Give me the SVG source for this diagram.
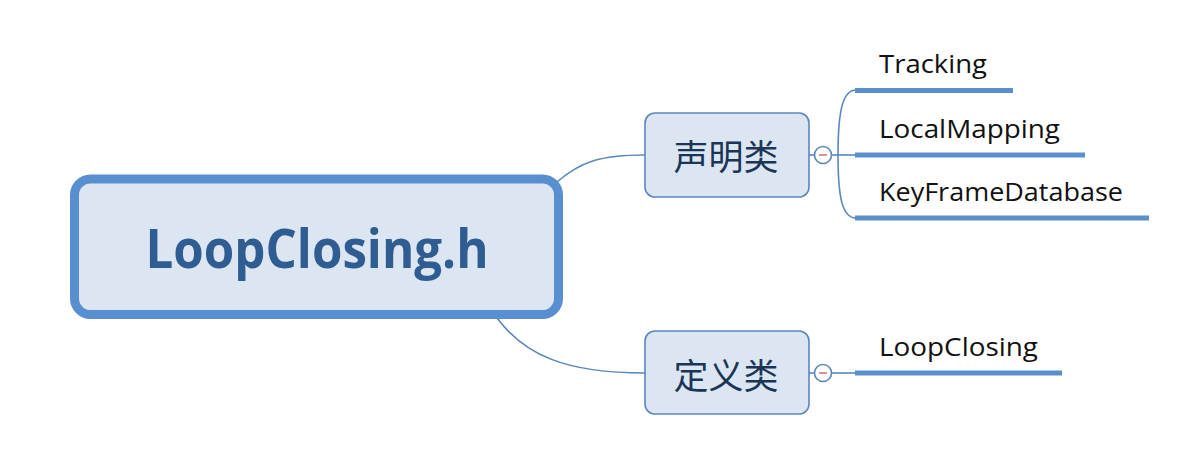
<svg xmlns="http://www.w3.org/2000/svg" width="1177" height="453" viewBox="0 0 1177 453">
<style>
.sub rect{fill:#dce6f2;stroke:#5b87bd;stroke-width:1.6}
.sub text{font-family:"Noto Sans CJK SC","Noto Sans",sans-serif;font-size:35px;fill:#1b3556;text-anchor:middle}
.leaf text{font-family:"Open Sans","Noto Sans",sans-serif;font-size:25px;fill:#111}
.leaf line{stroke:#5b8fcb;stroke-width:5}
.conn path,.conn line{fill:none;stroke:#5b87bd;stroke-width:1.6}
.tog circle{fill:#fff;stroke:#5b87bd;stroke-width:1.6}
.tog line{stroke:#c0504d;stroke-width:1.2}
</style>
<rect width="1177" height="453" fill="#fff"/>
<g class="conn" id="connectors">
<path d="M557,182 C580,162 600,155 645,155"/>
<path d="M497,318 C525,355 565,373 645,373"/>
<line x1="809" y1="155" x2="814" y2="155"/>
<line x1="832" y1="155" x2="856" y2="155"/>
<path d="M856,90 C843,90 838,110 838,155 C838,200 843,218 856,218"/>
<line x1="809" y1="373" x2="814" y2="373"/>
<line x1="832" y1="373" x2="856" y2="373"/>
</g>
<g id="root">
<rect x="74.5" y="179" width="484" height="135.5" rx="16" fill="#dce6f2" stroke="#578fd0" stroke-width="9"/>
<text x="317" y="268" font-family="Open Sans,Noto Sans,sans-serif" font-weight="bold" font-size="54" fill="#2f5c91" text-anchor="middle" textLength="343" lengthAdjust="spacingAndGlyphs">LoopClosing.h</text>
</g>
<g class="sub" id="decl">
<rect x="645" y="113" width="164" height="84" rx="10"/>
<text x="726" y="170">声明类</text>
</g>
<g class="sub" id="def">
<rect x="645" y="331" width="164" height="83" rx="10"/>
<text x="726" y="389">定义类</text>
</g>
<g class="tog" id="toggle1">
<circle cx="823" cy="155" r="8.5"/>
<line x1="819" y1="155" x2="827" y2="155"/>
</g>
<g class="tog" id="toggle2">
<circle cx="823" cy="373" r="8.5"/>
<line x1="819" y1="373" x2="827" y2="373"/>
</g>
<g class="leaf" id="tracking">
<text x="879" y="73" textLength="108" lengthAdjust="spacingAndGlyphs">Tracking</text>
<line x1="855" y1="90.5" x2="1013" y2="90.5"/>
</g>
<g class="leaf" id="localmapping">
<text x="879" y="138" textLength="181" lengthAdjust="spacingAndGlyphs">LocalMapping</text>
<line x1="855" y1="155" x2="1085" y2="155"/>
</g>
<g class="leaf" id="keyframedatabase">
<text x="879" y="201" textLength="244" lengthAdjust="spacingAndGlyphs">KeyFrameDatabase</text>
<line x1="855" y1="218" x2="1149" y2="218"/>
</g>
<g class="leaf" id="loopclosing">
<text x="879" y="356" textLength="159" lengthAdjust="spacingAndGlyphs">LoopClosing</text>
<line x1="855" y1="373" x2="1062" y2="373"/>
</g>
</svg>
